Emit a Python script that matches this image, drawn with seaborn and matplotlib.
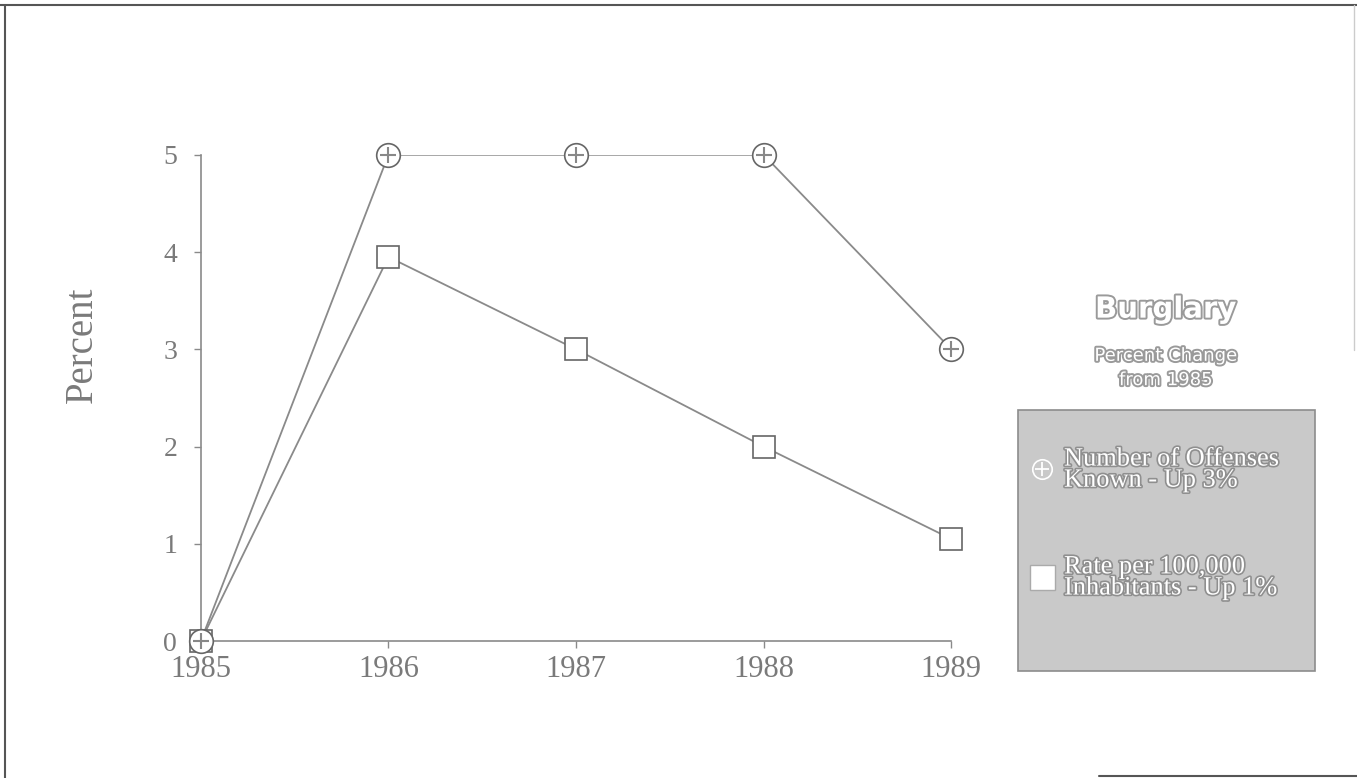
import matplotlib
matplotlib.use("Agg")
import matplotlib.pyplot as plt
import matplotlib.patheffects as pe
from matplotlib.lines import Line2D
from matplotlib.patches import Rectangle
import seaborn as sns
import pandas as pd

# data
years = [1985, 1986, 1987, 1988, 1989]
offenses = [0, 5, 5, 5, 3]
rate = [0, 3.95, 3.0, 2.0, 1.05]
y_ticks = [0, 1, 2, 3, 4, 5]

df = pd.DataFrame({"year": years, "offenses": offenses, "rate": rate})

sns.set_style("white")
plt.rcParams["font.family"] = ["Liberation Serif", "DejaVu Serif"]

gray = "#8a8a8a"
txt = "#7a7a7a"

fig = plt.figure(figsize=(13.57, 7.78), dpi=100)
ax = fig.add_axes([0.148, 0.176, 0.553, 0.625])

# lines
sns.lineplot(data=df, x="year", y="offenses", ax=ax, color=gray, lw=1.3)
sns.lineplot(data=df, x="year", y="rate", ax=ax, color=gray, lw=1.3)

# markers
ax.plot(df["year"], df["rate"], ls="none", marker="s", ms=16, mfc="white",
        mec="#666666", mew=1.2, clip_on=False, zorder=4)
ax.plot(df["year"], df["offenses"], ls="none", marker="o", ms=17, mfc="white",
        mec="#666666", mew=1.2, clip_on=False, zorder=5)
ax.plot(df["year"], df["offenses"], ls="none", marker="+", ms=12, mec="#888888",
        mew=1.5, clip_on=False, zorder=6)

ax.set_xlim(1985, 1989)
ax.set_ylim(0, 5)
ax.set_xticks(years)
ax.set_xticklabels([str(y) for y in years])
ax.set_yticks(y_ticks)
ax.tick_params(axis="both", colors=gray, labelcolor=txt, length=5, width=1,
               direction="out", bottom=True, left=True)
ax.tick_params(axis="x", pad=5, labelsize=22)
ax.tick_params(axis="y", pad=12, labelsize=20)
for s in ["top", "right"]:
    ax.spines[s].set_visible(False)
for s in ["left", "bottom"]:
    ax.spines[s].set_color(gray)
    ax.spines[s].set_linewidth(1.2)
ax.set_xlabel("")
ax.set_ylabel("")
fig.text(0.061, 0.557, "Percent", rotation=90, ha="center", va="center",
         fontsize=28, color=txt)

# outer frame (partial, as scanned)
fr = dict(transform=fig.transFigure, color="#555555", lw=1.5)
fig.add_artist(Line2D([0, 1], [0.994, 0.994], **fr))
fig.add_artist(Line2D([0.004, 0.004], [0.0, 0.994], **fr))
fig.add_artist(Line2D([0.81, 1], [0.002, 0.002], **fr))
fig.add_artist(Line2D([0.998, 0.998], [0.55, 0.994], transform=fig.transFigure,
                      color="#cccccc", lw=1))

# title block
emb = [pe.withStroke(linewidth=2.8, foreground="#9a9a9a")]
fig.text(0.859, 0.602, "Burglary", ha="center", va="center", fontsize=21,
         fontweight="bold", family="DejaVu Sans", color="white", path_effects=emb)
fig.text(0.859, 0.527, "Percent Change\nfrom 1985", ha="center", va="center",
         fontsize=13, family="DejaVu Sans", color="white", path_effects=emb,
         linespacing=1.45)

# legend box
fig.add_artist(Rectangle((0.750, 0.138), 0.219, 0.335, transform=fig.transFigure,
                         fc="#c9c9c9", ec="#8c8c8c", lw=1.2))
h1 = (Line2D([], [], ls="none", marker="o", ms=14, mfc="#c9c9c9", mec="white", mew=1.2),
      Line2D([], [], ls="none", marker="+", ms=10, mec="white", mew=1.3))
h2 = Line2D([], [], ls="none", marker="s", ms=18, mfc="white", mec="#aaaaaa", mew=1)
leg = fig.legend([h1, h2],
                 ["Number of Offenses\nKnown - Up 3%", "Rate per 100,000\nInhabitants - Up 1%"],
                 loc="upper left", bbox_to_anchor=(0.752, 0.437), frameon=False,
                 fontsize=19, handlelength=0.8, handletextpad=0.45,
                 labelspacing=2.45, borderaxespad=0)
for t in leg.get_texts():
    t.set_color("white")
    t.set_path_effects([pe.withStroke(linewidth=2.4, foreground="#8f8f8f")])
    t.set_linespacing(0.95)

fig.savefig("out.png", dpi=100)
